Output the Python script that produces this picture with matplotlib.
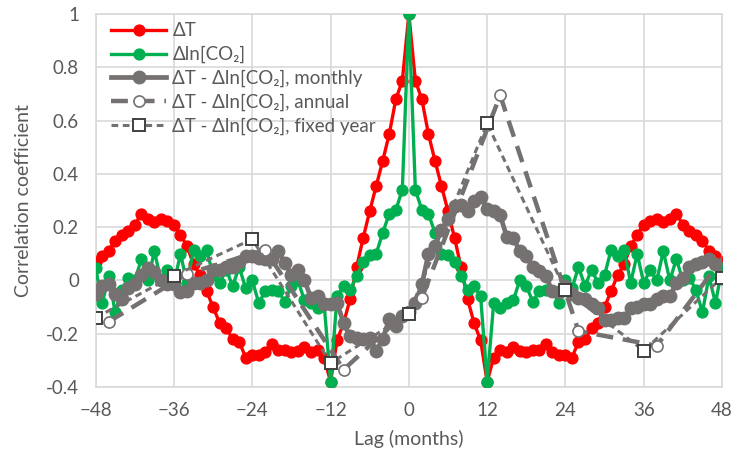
import numpy as np
import matplotlib
matplotlib.use('Agg')
import matplotlib.pyplot as plt

plt.rcParams['font.family'] = ['Lato', 'DejaVu Sans']

# Autocorrelation of dT for lags 0..48 (symmetric about 0)
dT_half = [1.00, 0.75, 0.68, 0.55, 0.45, 0.355, 0.26, 0.16, 0.05, -0.07,
           -0.16, -0.225, -0.38, -0.29, -0.26, -0.27, -0.25, -0.265, -0.27, -0.26,
           -0.26, -0.24, -0.27, -0.28, -0.28, -0.29, -0.23, -0.22, -0.18, -0.16,
           -0.10, -0.04, 0.02, 0.06, 0.13, 0.17, 0.21, 0.225, 0.23, 0.22,
           0.23, 0.25, 0.21, 0.185, 0.17, 0.15, 0.11, 0.09, 0.07]

# Autocorrelation of dln[CO2] for lags 0..48 (symmetric about 0)
dco2_half = [1.00, 0.34, 0.265, 0.25, 0.18, 0.10, 0.095, 0.07, 0.015, -0.035,
             -0.02, -0.06, -0.38, -0.085, -0.105, -0.085, -0.075, 0.0, -0.02, -0.08,
             -0.04, -0.035, -0.04, -0.085, 0.0, -0.03, 0.05, -0.02, 0.04, -0.01,
             0.02, 0.115, 0.09, 0.115, -0.01, 0.10, -0.01, 0.04, 0.0, 0.11,
             0.0, 0.08, 0.0, 0.01, -0.035, -0.12, 0.015, -0.085, 0.045]

# Cross-correlation dT - dln[CO2], monthly, lags -48..48
cross_monthly = [-0.05, -0.02, -0.015, -0.05, -0.07, -0.03, -0.015, 0.02, 0.045, 0.03,
                 0.0, -0.015, -0.015, -0.045, -0.04, -0.01, -0.01, 0.0, 0.04, 0.04,
                 0.05, 0.05, 0.07, 0.09, 0.09, 0.085, 0.08, 0.08, 0.11, 0.065,
                 0.02, 0.04, 0.0, -0.065, -0.06, -0.09, -0.09, -0.085, -0.16, -0.21,
                 -0.215, -0.22, -0.215, -0.265, -0.22, -0.145, -0.17, -0.135, -0.12,
                 -0.085, -0.015, 0.10, 0.13, 0.19, 0.23, 0.28, 0.285, 0.26, 0.30,
                 0.315, 0.27, 0.26, 0.245, 0.165, 0.16, 0.11, 0.09, 0.05, 0.035,
                 0.015, -0.04, -0.045, -0.02, -0.05, -0.065, -0.07, -0.09, -0.105, -0.15,
                 -0.15, -0.14, -0.14, -0.105, -0.10, -0.09, -0.09, -0.07, -0.06, -0.06,
                 -0.01, 0.01, 0.05, 0.06, 0.07, 0.08, 0.06, 0.01]

# Annual cross-correlation
annual_lags = [-46, -34, -22, -10, 2, 14, 26, 38, 50]
annual_vals = [-0.155, 0.025, 0.115, -0.335, -0.065, 0.695, -0.19, -0.245, 0.145]

# Fixed-year cross-correlation
fixed_lags = [-48, -36, -24, -12, 0, 12, 24, 36, 48]
fixed_vals = [-0.14, 0.018, 0.155, -0.31, -0.125, 0.59, -0.037, -0.264, 0.011]

lags = np.arange(-48, 49)
dT = np.concatenate([dT_half[:0:-1], dT_half])
dco2 = np.concatenate([dco2_half[:0:-1], dco2_half])

red = '#FF0000'
green = '#00B050'
gray = '#767171'
text_col = '#595959'

fig = plt.figure(figsize=(7.36, 4.59), dpi=100)
ax = fig.add_axes([0.130, 0.157, 0.851, 0.812])

ax.plot(lags, dT, color=red, lw=2.4, marker='o', ms=7.8, label='ΔT', zorder=3)
ax.plot(lags, dco2, color=green, lw=2.4, marker='o', ms=7.8, label='Δln[CO₂]', zorder=4)
ax.plot(lags, cross_monthly, color=gray, lw=3.4, marker='o', ms=9,
        label='ΔT - Δln[CO₂], monthly', zorder=5)
ax.plot(annual_lags, annual_vals, color=gray, lw=3.2, ls=(0, (3.8, 2.2)), marker='o', ms=8,
        mfc='white', mec=gray, mew=1.2, label='ΔT - Δln[CO₂], annual', zorder=6)
ax.plot(fixed_lags, fixed_vals, color=gray, lw=2.2, ls=(0, (2.2, 1.5)), marker='s', ms=8.5,
        mfc='white', mec='#404040', mew=1.4, label='ΔT - Δln[CO₂], fixed year', zorder=7)

ax.set_xlim(-48, 48)
ax.set_ylim(-0.4, 1.0)
ax.set_xticks(np.arange(-48, 49, 12))
ax.set_yticks(np.arange(-0.4, 1.01, 0.2))
ax.set_yticklabels(['-0.4', '-0.2', '0', '0.2', '0.4', '0.6', '0.8', '1'])
ax.grid(True, color='#D9D9D9', lw=1.2)
ax.set_axisbelow(True)
for s in ax.spines.values():
    s.set_color('#D9D9D9')
    s.set_linewidth(1.2)
ax.tick_params(axis='x', length=0, labelsize=13.5, colors=text_col, pad=11)
ax.tick_params(axis='y', length=0, labelsize=13.5, colors=text_col, pad=12)

ax.set_xlabel('Lag (months)', fontsize=14, color=text_col, labelpad=8)
ax.set_ylabel('Correlation coefficient', fontsize=14, color=text_col, labelpad=10)

leg = ax.legend(loc='upper left', frameon=False, fontsize=13.5, handlelength=2.9,
                handletextpad=0.35, labelspacing=0.35, borderaxespad=0.0,
                bbox_to_anchor=(0.013, 0.998))
for t in leg.get_texts():
    t.set_color(text_col)

fig.savefig('out.png', dpi=100)
